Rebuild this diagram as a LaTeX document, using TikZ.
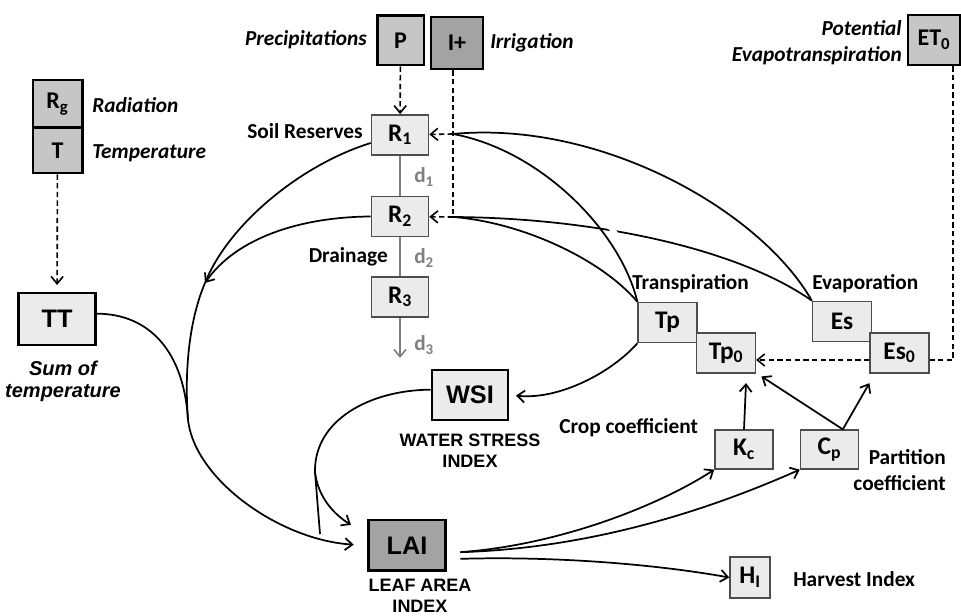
\documentclass[tikz,border=0pt]{standalone}
\usepackage{fontspec}
\setmainfont{Carlito}
\newfontfamily\arialfont{Liberation Sans}
\usetikzlibrary{arrows.meta,positioning}

\definecolor{boxlight}{HTML}{EBEBEB}
\definecolor{boxmid}{HTML}{C6C6C6}
\definecolor{boxdark}{HTML}{A3A3A3}
\definecolor{rimgray}{HTML}{4D4D4D}
\definecolor{drain}{HTML}{7F7F7F}

\begin{document}
\begin{tikzpicture}[x=0.75pt,y=-0.75pt,
  >={Straight Barb[length=5.5pt,width=9pt]},
  cell/.style={draw=rimgray, line width=1.2pt, fill=boxlight, inner sep=0pt,
    minimum width=44pt, minimum height=30pt, font=\bfseries\fontsize{19}{19}\selectfont},
  input/.style={draw=black, line width=2pt, fill=boxmid, inner sep=0pt,
    font=\bfseries\fontsize{18}{18}\selectfont},
  state/.style={draw=black, line width=2pt, fill=boxlight, inner sep=0pt,
    minimum width=58pt, minimum height=38pt, font=\arialfont\bfseries\fontsize{19}{19}\selectfont},
  lbl/.style={font=\bfseries\fontsize{16}{19.5}\selectfont, inner sep=0pt},
  ilbl/.style={font=\bfseries\itshape\fontsize{16}{19.5}\selectfont, inner sep=0pt},
  caps/.style={font=\arialfont\bfseries\fontsize{13.5}{16}\selectfont, align=center, inner sep=0pt},
  flow/.style={line width=1.3pt},
  feed/.style={line width=1.2pt, dash pattern=on 4pt off 2.5pt},
  drainline/.style={draw=drain, line width=1.2pt}
]
\useasboundingbox (0,0) rectangle (961,616);

% inputs
\node[input, minimum width=37pt, minimum height=36pt] (Rg) at (57.5,104) {R\textsubscript{g}};
\node[input, minimum width=37pt, minimum height=34pt] (T) at (57.5,150.5) {T};
\node[input, minimum width=35pt, minimum height=37pt] (P) at (400.5,40.5) {P};
\node[input, fill=boxdark, minimum width=39pt, minimum height=39pt] (Ip) at (457,43) {I+};
\node[input, minimum width=39pt, minimum height=37.5pt] (ET0) at (934,40) {ET\textsubscript{0}};

\node[ilbl, anchor=west] (radL) at (92,105) {Radiation};
\node[ilbl, anchor=west] (tempL) at (92,153) {Temperature};
\node[ilbl, anchor=east] (precL) at (367,40) {Precipitations};
\node[ilbl, anchor=west] (irrL) at (490,43) {Irrigation};
\node[ilbl, anchor=east, align=right] (etL) at (902,43) {Potential\\Evapotranspiration};

% state variables
\node[state, minimum height=39pt] (TT) at (57,319) {TT};
\node[state, minimum width=57pt, minimum height=37.5pt] (WSI) at (470,395) {WSI};
\node[state, fill=boxdark] (LAI) at (407,545.5) {LAI};

\node[font=\arialfont\bfseries\itshape\fontsize{15}{16.5}\selectfont, align=center, inner sep=0pt] (ttL) at (63,381) {Sum of\\temperature};
\node[caps] (wsiL) at (470,451) {WATER STRESS\\INDEX};
\node[caps] (laiL) at (420,596) {LEAF AREA\\INDEX};

% soil reserves
\node[cell, minimum width=42.75pt] (R1) at (400,135) {R\textsubscript{1}};
\node[cell, minimum width=42.75pt] (R2) at (400,216.5) {R\textsubscript{2}};
\node[cell, minimum width=42.75pt] (R3) at (400,297) {R\textsubscript{3}};
\node[lbl, anchor=east] (soilL) at (363,131) {Soil Reserves};
\node[lbl, anchor=east] (drainL) at (388,257) {Drainage};
\node[lbl, text=drain, anchor=west] (d1) at (414,177) {d\textsubscript{1}};
\node[lbl, text=drain, anchor=west] (d2) at (414,258) {d\textsubscript{2}};
\node[lbl, text=drain, anchor=west] (d3) at (414,345) {d\textsubscript{3}};

% water fluxes
\node[cell] (Tp) at (667.5,322.5) {Tp};
\node[cell] (Tp0) at (726,353) {Tp\textsubscript{0}};
\node[cell] (Es) at (842,321.5) {Es};
\node[cell] (Es0) at (899.5,353) {Es\textsubscript{0}};
\node[lbl, anchor=west] (trL) at (632,284) {Transpiration};
\node[lbl, anchor=west] (evL) at (812,284) {Evaporation};

% coefficients
\node[cell, minimum width=43.5pt, minimum height=29pt] (Kc) at (744,449.5) {K\textsubscript{c}};
\node[cell, minimum width=43.5pt, minimum height=29pt] (Cp) at (829.5,449.5) {C\textsubscript{p}};
\node[cell, minimum width=30pt, minimum height=31pt] (HI) at (750,577.5) {H\textsubscript{I}};
\node[lbl, anchor=west] (cropL) at (559,428) {Crop coefficient};
\node[lbl, anchor=east, align=right] (partL) at (946,470) {Partition\\coefficient};
\node[lbl, anchor=west] (hiL) at (793,579) {Harvest Index};

% dashed inputs
\coordinate (j1) at (453,134);
\coordinate (j2) at (453,217);
\coordinate (e1) at (953,360);
\draw[feed,->,shorten >=5pt] (T) -- (TT);
\draw[feed,->] (P) -- (R1);
\draw[feed] (j2 |- Ip.south) -- (j2);
\draw[feed,->] (j2) -- (R2);
\draw[feed,->] (j1) -- (R1);
\draw[feed] (ET0.south -| e1) -- (e1) -- (Es0.east |- e1);
\draw[feed,->] (Es0.west |- e1) -- (Tp0.east |- e1);

% drainage
\coordinate (dout) at (400,358);
\draw[drainline] (R1) -- (R2);
\draw[drainline] (R2) -- (R3);
\draw[drainline,->] (R3) -- (dout);

% towards LAI
\coordinate (m1) at (205,283);
\coordinate (m2) at (188,420);
\coordinate (w1) at (315,472);
\coordinate (w2) at (320,534);
\draw[flow,->,shorten >=10pt] ([yshift=-6pt]R1.west) .. controls (300,165) and (228,225) .. (m1)
  .. controls (190,318) and (184,368) .. (m2)
  .. controls (195,480) and (280,540) .. (LAI.west);
\draw[flow,->] (R2.west) .. controls (300,217) and (236,238) .. (m1);
\draw[flow] ([yshift=4pt]TT.east) .. controls (150,314) and (184,352) .. (m2);
\draw[flow] ([yshift=4pt]WSI.west) .. controls (370,390) and (314,420) .. (w1) -- (w2);
\draw[flow,->] (w1) .. controls (318,498) and (335,515) .. ([xshift=-12pt,yshift=-4.5pt]LAI.north west);
\draw[flow,->,shorten >=5pt] (Tp.south west) .. controls (612,372) and (560,400) .. (WSI.east);

% fluxes back to the reserves
\draw[flow] (Tp.north west) .. controls (600,258) and (520,222) .. (j2);
\draw[flow] (Es.north west) .. controls (740,250) and (600,218) .. (j2);
\draw[flow] (Es.north west) .. controls (760,210) and (600,120) .. (j1);
\draw[flow, preaction={draw=white, line width=4pt, shorten <=40pt, shorten >=50pt}]
  (Tp.north west) .. controls (620,230) and (540,150) .. (j1);

% coefficients
\draw[flow,->] (Kc.north) -- ([xshift=15pt,yshift=-7pt]Tp0.south);
\draw[flow,->] ([xshift=10pt]Cp.north) -- ([xshift=4pt,yshift=-2pt]Tp0.south east);
\draw[flow,->] ([xshift=10pt]Cp.north) -- ([yshift=-7pt]Es0.south west);
\draw[flow,->] ([xshift=10pt,yshift=-5pt]LAI.east) .. controls (560,545) and (660,505) .. (Kc.south west);
\draw[flow,->] ([xshift=10pt,yshift=-5pt]LAI.east) .. controls (600,548) and (720,505) .. (Cp.south west);
\draw[flow,->] ([xshift=10pt,yshift=-10pt]LAI.east) .. controls (560,556) and (660,565) .. (HI.west);
\end{tikzpicture}
\end{document}
